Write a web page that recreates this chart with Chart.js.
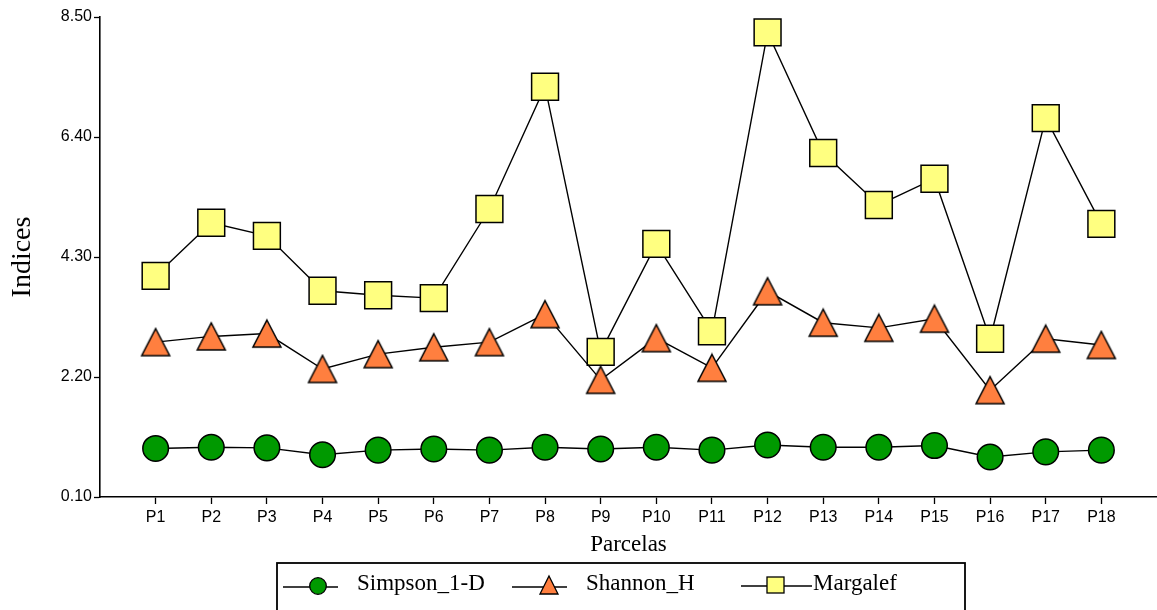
<!DOCTYPE html>
<html lang="pt-BR">
<head>
<meta charset="UTF-8">
<title>Indices por parcela</title>
<script src="https://cdn.jsdelivr.net/npm/chart.js"></script>
<style>
  html, body { margin: 0; padding: 0; background: #fff; }
  canvas { display: block; }
</style>
</head>
<body>
<canvas id="indicesChart" width="1157" height="610"></canvas>

<script>
    // dados
    const parcelas = ['P1','P2','P3','P4','P5','P6','P7','P8','P9','P10','P11','P12','P13','P14','P15','P16','P17','P18'];
    const simpson = [0.95, 0.97, 0.96, 0.84, 0.92, 0.94, 0.92, 0.97, 0.94, 0.97, 0.92, 1.01, 0.97, 0.97, 1.00, 0.80, 0.89, 0.92];
    const shannon = [2.81, 2.91, 2.96, 2.34, 2.60, 2.72, 2.81, 3.30, 2.15, 2.88, 2.36, 3.70, 3.15, 3.06, 3.22, 1.97, 2.87, 2.76];
    const margalef = [3.97, 4.90, 4.67, 3.71, 3.63, 3.58, 5.14, 7.28, 2.64, 4.53, 3.00, 8.23, 6.12, 5.21, 5.67, 2.87, 6.73, 4.88];
    const yTicks = [0.10, 2.20, 4.30, 6.40, 8.50];

    const verde = '#009900';
    const laranja = '#ff7f3f';
    const amarelo = '#ffff80';

    // triangulo do marcador (base 28, altura 27)
    function triangulo(w, h, cor) {
        const c = document.createElement('canvas');
        c.width = w + 4; c.height = h + 4;
        const g = c.getContext('2d');
        g.beginPath();
        g.moveTo(c.width / 2, 2);
        g.lineTo(w + 2, h + 2);
        g.lineTo(2, h + 2);
        g.closePath();
        g.fillStyle = cor;
        g.fill();
        g.lineWidth = 1.5;
        g.strokeStyle = '#000';
        g.stroke();
        return c;
    }

    const pontos = arr => arr.map((v, i) => ({ x: i + 1, y: v }));

    // legenda desenhada à mão, estilo do original
    const legendaPlugin = {
        id: 'legendaBox',
        afterDraw(chart) {
            const ctx = chart.ctx;
            const ds = chart.data.datasets;
            ctx.save();
            ctx.strokeStyle = '#000';
            ctx.lineWidth = 1.8;
            ctx.strokeRect(277, 563, 688, 60);

            ctx.lineWidth = 1.3;
            ctx.font = '23px "Liberation Serif", "Times New Roman", serif';
            ctx.textBaseline = 'alphabetic';
            ctx.fillStyle = '#000';

            // Simpson
            ctx.beginPath(); ctx.moveTo(283, 587); ctx.lineTo(338, 587); ctx.stroke();
            ctx.beginPath(); ctx.arc(318, 586, 8.3, 0, Math.PI * 2);
            ctx.fillStyle = ds[0].backgroundColor; ctx.fill(); ctx.stroke();
            ctx.fillStyle = '#000';
            ctx.fillText(ds[0].label, 357, 590);

            // Shannon
            ctx.beginPath(); ctx.moveTo(512, 587); ctx.lineTo(567, 587); ctx.stroke();
            ctx.beginPath(); ctx.moveTo(549, 576); ctx.lineTo(558, 594); ctx.lineTo(540, 594); ctx.closePath();
            ctx.fillStyle = laranja; ctx.fill(); ctx.stroke();
            ctx.fillStyle = '#000';
            ctx.fillText(ds[1].label, 586, 590);

            // Margalef
            ctx.beginPath(); ctx.moveTo(741, 586); ctx.lineTo(812, 586); ctx.stroke();
            ctx.fillStyle = ds[2].backgroundColor;
            ctx.fillRect(767, 577, 17, 16);
            ctx.strokeRect(767, 577, 17, 16);
            ctx.fillStyle = '#000';
            ctx.fillText(ds[2].label, 813, 590);
            ctx.restore();
        }
    };

    new Chart(document.getElementById('indicesChart'), {
        type: 'line',
        data: {
            datasets: [{
                label: 'Simpson_1-D',
                data: pontos(simpson),
                borderColor: '#000',
                borderWidth: 1.4,
                backgroundColor: verde,
                pointStyle: 'circle',
                pointRadius: 12.8,
                pointHoverRadius: 12.8,
                pointBorderColor: '#000',
                pointBorderWidth: 1.5
            }, {
                label: 'Shannon_H',
                data: pontos(shannon),
                borderColor: '#000',
                borderWidth: 1.4,
                backgroundColor: laranja,
                pointStyle: triangulo(28, 27, laranja),
                pointRadius: 14
            }, {
                label: 'Margalef',
                data: pontos(margalef),
                borderColor: '#000',
                borderWidth: 1.4,
                backgroundColor: amarelo,
                pointStyle: 'rect',
                pointRadius: 19,
                pointHoverRadius: 19,
                pointBorderColor: '#000',
                pointBorderWidth: 1.5
            }]
        },
        options: {
            responsive: false,
            animation: false,
            events: [],
            layout: { autoPadding: false, padding: { top: 17, right: 0, left: 0, bottom: 0 } },
            plugins: {
                legend: { display: false },
                tooltip: { enabled: false }
            },
            scales: {
                x: {
                    type: 'linear',
                    min: 0,
                    max: 19,
                    afterBuildTicks: s => { s.ticks = parcelas.map((p, i) => ({ value: i + 1 })); },
                    afterFit: s => { s.height = 113; s.paddingLeft = 0; s.paddingRight = 0; },
                    ticks: {
                        callback: v => parcelas[v - 1] || '',
                        color: '#000',
                        font: { family: '"Liberation Sans", Arial, sans-serif', size: 16 },
                        padding: 4,
                        maxRotation: 0,
                        autoSkip: false
                    },
                    grid: {
                        drawOnChartArea: false,
                        color: '#000',
                        tickLength: 7,
                        tickWidth: 1.3
                    },
                    border: { color: '#000', width: 1.6 },
                    title: {
                        display: true,
                        text: 'Parcelas',
                        color: '#000',
                        font: { family: '"Liberation Serif", "Times New Roman", serif', size: 23 },
                        padding: { top: 0, bottom: 51 }
                    }
                },
                y: {
                    min: 0.1,
                    max: 8.5,
                    afterBuildTicks: s => { s.ticks = yTicks.map(v => ({ value: v })); },
                    afterFit: s => { s.width = 100; },
                    ticks: {
                        callback: v => v.toFixed(2),
                        color: '#000',
                        font: { family: '"Liberation Sans", Arial, sans-serif', size: 16 },
                        padding: 2
                    },
                    grid: {
                        drawOnChartArea: false,
                        color: '#000',
                        tickLength: 6,
                        tickWidth: 1.3
                    },
                    border: { color: '#000', width: 1.6 },
                    title: {
                        display: true,
                        text: 'Indices',
                        color: '#000',
                        font: { family: '"Liberation Serif", "Times New Roman", serif', size: 28 },
                        padding: { top: 6, bottom: 0 }
                    }
                }
            }
        },
        plugins: [legendaPlugin]
    });
</script>
</body>
</html>
